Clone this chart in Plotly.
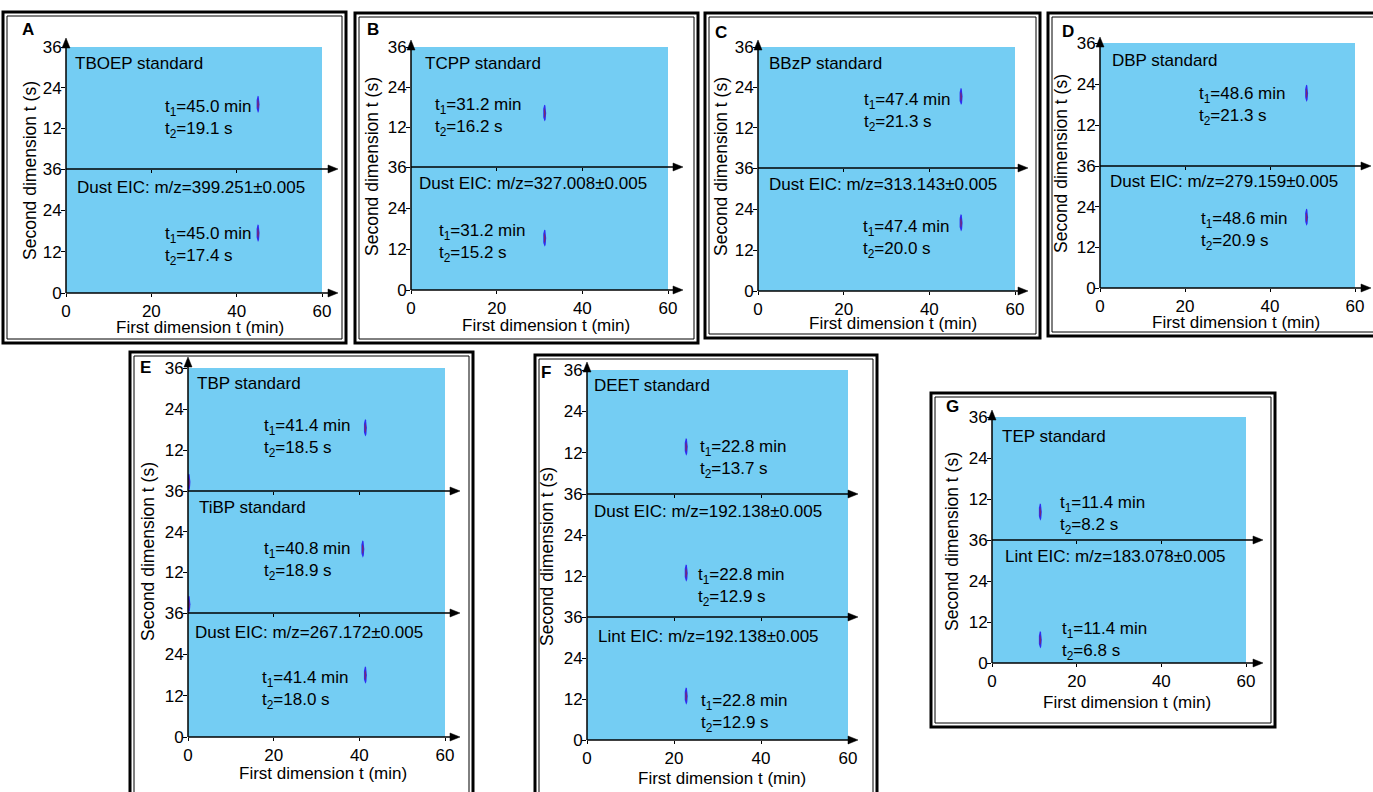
import numpy as np
import plotly.graph_objects as go

W, H = 1373, 792

# ---------------- data ----------------
panel_letters = ["A", "B", "C", "D", "E", "F", "G"]
sub_titles = [
    ["TBOEP standard", "Dust EIC: m/z=399.251±0.005"],
    ["TCPP standard", "Dust EIC: m/z=327.008±0.005"],
    ["BBzP standard", "Dust EIC: m/z=313.143±0.005"],
    ["DBP standard", "Dust EIC: m/z=279.159±0.005"],
    ["TBP standard", "TiBP standard", "Dust EIC: m/z=267.172±0.005"],
    ["DEET standard", "Dust EIC: m/z=192.138±0.005", "Lint EIC: m/z=192.138±0.005"],
    ["TEP standard", "Lint EIC: m/z=183.078±0.005"],
]
t1_min = [
    [45.0, 45.0],
    [31.2, 31.2],
    [47.4, 47.4],
    [48.6, 48.6],
    [41.4, 40.8, 41.4],
    [22.8, 22.8, 22.8],
    [11.4, 11.4],
]
t2_s = [
    [19.1, 17.4],
    [16.2, 15.2],
    [21.3, 20.0],
    [21.3, 20.9],
    [18.5, 18.9, 18.0],
    [13.7, 12.9, 12.9],
    [8.2, 6.8],
]
# small spots at the very start of panel E (upper two windows)
edge_panel = [4, 4]
edge_sub = [0, 1]
edge_t1 = [0.2, 0.2]
edge_t2 = [2.6, 2.6]

x_ticks = [0, 20, 40, 60]
y_ticks = [0, 12, 24, 36]
x_title = "First dimension t (min)"
y_title = "Second dimension t (s)"

# ---------------- layout geometry (pixels) ----------------
geom = [
    dict(x0=66, x60=322, xend=338, ytip=38, bounds=[47, 169, 293], box=(3, 12, 346, 343),
         letter=(28, 30), ytitle=(30, 171), xtitle=(200, 327),
         sub_pos=[(73, 64), (75, 187)], lab_pos=[(163, 106), (163, 233)]),
    dict(x0=411, x60=668, xend=683, ytip=40, bounds=[47, 167, 290], box=(355, 13, 698, 343),
         letter=(373, 30), ytitle=(372, 167), xtitle=(546, 325),
         sub_pos=[(423, 63), (417, 183)], lab_pos=[(433, 104), (437, 230)]),
    dict(x0=758, x60=1015, xend=1028, ytip=40, bounds=[47, 168, 291], box=(705, 13, 1040, 338),
         letter=(721, 32), ytitle=(721, 167), xtitle=(893, 323),
         sub_pos=[(767, 63), (767, 185)], lab_pos=[(862, 99), (861, 226)]),
    dict(x0=1100, x60=1355, xend=1371, ytip=37, bounds=[43, 166, 288], box=(1048, 13, 1385, 336),
         letter=(1068, 31), ytitle=(1061, 164), xtitle=(1236, 322),
         sub_pos=[(1110, 60), (1108, 182)], lab_pos=[(1197, 93), (1199, 218)]),
    dict(x0=188, x60=445, xend=460, ytip=357, bounds=[368, 491, 613, 737], box=(130, 352, 473, 800),
         letter=(145, 367), ytitle=(148, 552), xtitle=(323, 773),
         sub_pos=[(195, 383), (197, 507), (193, 632)], lab_pos=[(262, 425), (262, 548), (260, 677)]),
    dict(x0=587, x60=848, xend=858, ytip=362, bounds=[370, 494, 617, 740], box=(535, 355, 877, 800),
         letter=(546, 372), ytitle=(547, 557), xtitle=(722, 778),
         sub_pos=[(592, 385), (592, 511), (596, 636)], lab_pos=[(698, 446), (696, 574), (699, 700)]),
    dict(x0=992, x60=1246, xend=1263, ytip=410, bounds=[417, 540, 663], box=(931, 393, 1275, 727),
         letter=(952, 407), ytitle=(952, 542), xtitle=(1127, 702),
         sub_pos=[(1000, 436), (1003, 556)], lab_pos=[(1058, 502), (1060, 628)]),
]

FONT = "Liberation Sans, Arial, sans-serif"
BG = "#74CDF3"
FS = 17


def fx(px):
    return px / W


def fy(py):
    return 1 - py / H


shapes = []
annotations = []


def add_line(x0, y0, x1, y1, w=1.5):
    shapes.append(dict(type="line", xref="paper", yref="paper",
                       x0=fx(x0), y0=fy(y0), x1=fx(x1), y1=fy(y1),
                       line=dict(color="black", width=w), layer="above"))


def add_tri(pts):
    path = "M " + " L ".join(f"{fx(a):.6f},{fy(b):.6f}" for a, b in pts) + " Z"
    shapes.append(dict(type="path", xref="paper", yref="paper", path=path,
                       fillcolor="black", line=dict(color="black", width=0.5), layer="above"))


def add_rect(x0, y0, x1, y1, w):
    shapes.append(dict(type="rect", xref="paper", yref="paper",
                       x0=fx(x0), y0=fy(y0), x1=fx(x1), y1=fy(y1),
                       line=dict(color="black", width=w), fillcolor="rgba(0,0,0,0)", layer="above"))


theta = np.linspace(0, 2 * np.pi, 48)


def spot_traces(cx, cy, xa, ya):
    out = []
    for rx, ry, col in [(0.36, 2.5, "#2f2cf2"), (0.2, 1.4, "#7a2a6e")]:
        out.append(go.Scatter(x=cx + rx * np.cos(theta), y=cy + ry * np.sin(theta),
                              mode="lines", fill="toself", fillcolor=col,
                              line=dict(width=0, color=col), hoverinfo="skip",
                              showlegend=False, xaxis=xa, yaxis=ya))
    return out


fig = go.Figure()
layout_axes = {}
axis_index = {}
n = 0
for p, g in enumerate(geom):
    nsub = len(sub_titles[p])
    for k in range(nsub):
        n += 1
        axis_index[(p, k)] = n
        xs = "" if n == 1 else str(n)
        top, bot = g["bounds"][k], g["bounds"][k + 1]
        is_bottom = k == nsub - 1
        layout_axes["xaxis" + xs] = dict(
            domain=[fx(g["x0"]), fx(g["x60"])], range=[0, 60], anchor="y" + xs,
            tickvals=x_ticks if is_bottom else x_ticks[1:3],
            showticklabels=is_bottom, ticks="outside", ticklen=3,
            tickcolor="black", tickwidth=1, showgrid=False, zeroline=False, showline=False,
            tickfont=dict(size=FS, color="black", family=FONT), automargin=False, fixedrange=True)
        layout_axes["yaxis" + xs] = dict(
            domain=[fy(bot), fy(top)], range=[0, 36], anchor="x" + xs,
            tickvals=y_ticks if is_bottom else y_ticks[1:],
            ticks="outside", ticklen=4, tickcolor="black", tickwidth=1, ticklabelstandoff=-4,
            showgrid=False, zeroline=False, showline=False,
            tickfont=dict(size=FS, color="black", family=FONT), automargin=False, fixedrange=True)

        xa, ya = "x" + xs, "y" + xs
        for tr in spot_traces(t1_min[p][k], t2_s[p][k], xa, ya):
            fig.add_trace(tr)

        # window title
        sx, sy = g["sub_pos"][k]
        annotations.append(dict(text=sub_titles[p][k], x=fx(sx), y=fy(sy), xref="paper", yref="paper",
                                xanchor="left", yanchor="middle", showarrow=False,
                                font=dict(size=FS, color="black", family=FONT)))
        # retention time labels
        lx, ly = g["lab_pos"][k]
        annotations.append(dict(
            text=f"t<sub>1</sub>={t1_min[p][k]:.1f} min<br>t<sub>2</sub>={t2_s[p][k]:.1f} s",
            x=fx(lx), y=fy(ly - 11), xref="paper", yref="paper", xanchor="left", yanchor="top",
            align="left", showarrow=False, font=dict(size=FS, color="black", family=FONT)))

        # horizontal arrow (axis / divider)
        add_line(g["x0"], bot, g["xend"] - 6, bot)
        add_tri([(g["xend"], bot), (g["xend"] - 10, bot - 4), (g["xend"] - 10, bot + 4)])

    # vertical axis with arrow
    add_line(g["x0"], g["bounds"][-1], g["x0"], g["ytip"] + 6)
    add_tri([(g["x0"], g["ytip"]), (g["x0"] - 4, g["ytip"] + 10), (g["x0"] + 4, g["ytip"] + 10)])

    # panel frame (double line)
    bx0, by0, bx1, by1 = g["box"]
    add_rect(bx0, by0, bx1, by1, 3)
    add_rect(bx0 + 4, by0 + 4, bx1 - 4, by1 - 4, 1)

    # letter and axis titles
    annotations.append(dict(text=f"<b>{panel_letters[p]}</b>", x=fx(g["letter"][0]), y=fy(g["letter"][1]),
                            xref="paper", yref="paper", showarrow=False, xanchor="center", yanchor="middle",
                            font=dict(size=17, color="black", family=FONT)))
    annotations.append(dict(text=y_title, x=fx(g["ytitle"][0]), y=fy(g["ytitle"][1]), textangle=-90,
                            xref="paper", yref="paper", showarrow=False, xanchor="center", yanchor="middle",
                            font=dict(size=17.5, color="black", family=FONT)))
    annotations.append(dict(text=x_title, x=fx(g["xtitle"][0]), y=fy(g["xtitle"][1]),
                            xref="paper", yref="paper", showarrow=False, xanchor="center", yanchor="middle",
                            font=dict(size=FS, color="black", family=FONT)))

for pp, kk, a, b in zip(edge_panel, edge_sub, edge_t1, edge_t2):
    i = axis_index[(pp, kk)]
    xs = "" if i == 1 else str(i)
    for tr in spot_traces(a, b, "x" + xs, "y" + xs):
        fig.add_trace(tr)

fig.update_layout(
    template="none",
    width=W, height=H,
    margin=dict(l=0, r=0, t=0, b=0),
    paper_bgcolor="white", plot_bgcolor=BG,
    font=dict(family=FONT, size=FS, color="black"),
    showlegend=False,
    shapes=shapes, annotations=annotations,
    **layout_axes,
)

fig.write_html("out.html", config={"displayModeBar": False},
               post_script="document.body.style.margin='0';document.body.style.overflow='hidden';")
